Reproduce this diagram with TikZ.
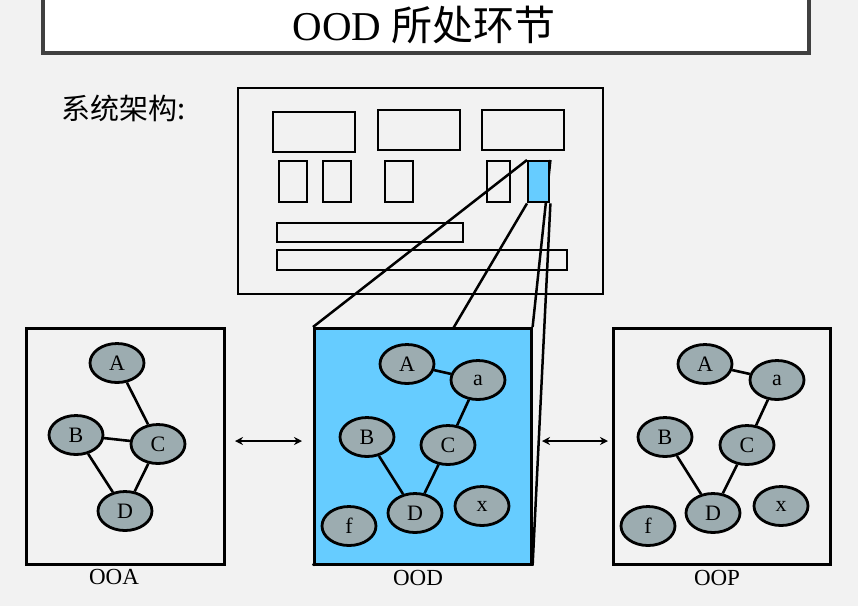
\documentclass[tikz,border=0pt]{standalone}
\usepackage{fontspec}
\setmainfont{Liberation Serif}
\newfontfamily\cjk{Noto Sans CJK SC}
\usetikzlibrary{shapes.geometric,arrows.meta}
\definecolor{bgc}{RGB}{242,242,242}
\definecolor{skyb}{RGB}{102,204,255}
\definecolor{nodeg}{RGB}{156,172,176}
\definecolor{titleline}{RGB}{64,64,64}
\pgfdeclarelayer{background}
\pgfsetlayers{background,main}
\begin{document}
\begin{tikzpicture}[x=1pt,y=-1pt,
  rbox/.style 2 args={draw=black,line width=2.4pt,anchor=north west,inner sep=0pt,minimum width=#1pt,minimum height=#2pt},
  gbox/.style 2 args={draw=black,line width=2.6pt,anchor=north west,inner sep=0pt,minimum width=#1pt,minimum height=#2pt},
  gn/.style={ellipse,draw=black,line width=2.8pt,fill=nodeg,minimum width=54pt,minimum height=39pt,inner sep=0pt,font=\fontsize{22}{22}\selectfont},
  edge/.style={line width=2.6pt},
  zoomline/.style={line width=2.5pt},
  biarrow/.style={line width=2.5pt,{Stealth[length=8pt,width=8pt]}-{Stealth[length=8pt,width=8pt]}},
  lab/.style={font=\fontsize{23}{23}\selectfont}]
\begin{pgfonlayer}{background}
\fill[bgc] (0,0) rectangle (858,606);
\end{pgfonlayer}
\useasboundingbox (0,0) rectangle (858,606);

% title
\node[draw=titleline,line width=3.6pt,fill=white,anchor=north west,inner sep=0pt,minimum width=766pt,minimum height=58pt] (title) at (41,-7) {};
\node (titletext) at (424,25) {\fontsize{41}{41}\selectfont OOD {\cjk 所处环节}};

% label
\node (syslabel) at (124,108) {\cjk\fontsize{29}{29}\selectfont 系统架构:};

% system architecture box
\node[rbox={365}{206}] (sys) at (237,87) {};
\node[rbox={82}{40}] (r1) at (272,111) {};
\node[rbox={82}{40}] (r2) at (377,109) {};
\node[rbox={82}{40}] (r3) at (481,109) {};
\node[rbox={28}{41}] (s1) at (278,160) {};
\node[rbox={28}{41}] (s2) at (322,160) {};
\node[rbox={28}{41}] (s3) at (384,160) {};
\node[rbox={23}{41}] (s4) at (486,160) {};
\node[rbox={21}{41},fill=skyb] (blue) at (527,160) {};
\node[rbox={186}{19}] (b1) at (276,222) {};
\node[rbox={290}{20}] (b2) at (276,249) {};

% three boxes
\node[gbox={198}{236}] (ooa) at (25,327) {};
\node[gbox={217}{236},fill=skyb] (ood) at (313,327) {};
\node[gbox={217}{236}] (oop) at (612,327) {};

\begin{pgfonlayer}{background}
\draw[zoomline] (blue.north west) -- (ood.north west);
\draw[zoomline] (blue.north east) -- (ood.north east);
\draw[zoomline] (blue.south west) -- (ood.south west);
\draw[zoomline] (blue.south east) -- (ood.south east);
\end{pgfonlayer}

\node[lab] (ooalab) at (114,577) {OOA};
\node[lab] (oodlab) at (418,578) {OOD};
\node[lab] (ooplab) at (717,578) {OOP};

% OOA graph
\node[gn] (aA) at (117,363) {A};
\node[gn] (aB) at (76,435) {B};
\node[gn] (aC) at (158,444) {C};
\node[gn] (aD) at (125,511) {D};
\draw[edge] (aA) -- (aC);
\draw[edge] (aB) -- (aC);
\draw[edge] (aB) -- (aD);
\draw[edge] (aC) -- (aD);

% OOD graph
\node[gn] (dA) at (407,364) {A};
\node[gn] (da) at (478,380) {a};
\node[gn] (dB) at (367,437) {B};
\node[gn] (dC) at (448,445) {C};
\node[gn] (dD) at (415,513) {D};
\node[gn] (dx) at (482,506) {x};
\node[gn] (df) at (349,526) {f};
\draw[edge] (dA) -- (da);
\draw[edge] (da) -- (dC);
\draw[edge] (dB) -- (dD);
\draw[edge] (dC) -- (dD);

% OOP graph
\node[gn] (pA) at (705,364) {A};
\node[gn] (pa) at (777,380) {a};
\node[gn] (pB) at (665,437) {B};
\node[gn] (pC) at (747,445) {C};
\node[gn] (pD) at (713,513) {D};
\node[gn] (px) at (781,506) {x};
\node[gn] (pf) at (648,526) {f};
\draw[edge] (pA) -- (pa);
\draw[edge] (pa) -- (pC);
\draw[edge] (pB) -- (pD);
\draw[edge] (pC) -- (pD);

% arrows
\coordinate (ar1l) at (235,441);
\coordinate (ar1r) at (302,441);
\coordinate (ar2l) at (542,441);
\coordinate (ar2r) at (608,441);
\draw[biarrow] (ar1l) -- (ar1r);
\draw[biarrow] (ar2l) -- (ar2r);
\end{tikzpicture}
\end{document}
